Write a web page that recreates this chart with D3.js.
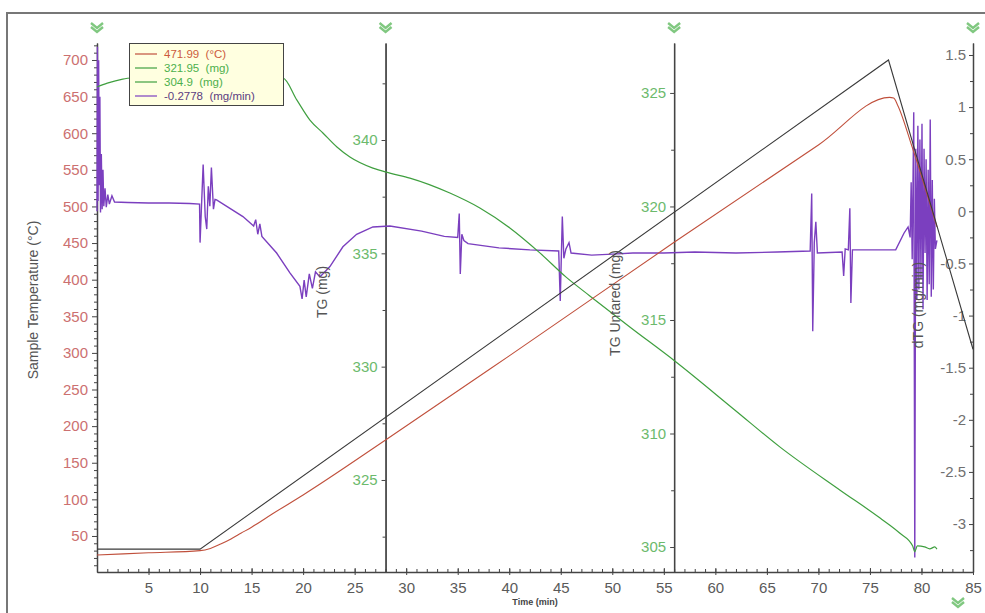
<!DOCTYPE html>
<html lang="en">
<head>
    <meta charset="UTF-8">
    <title>TG / dTG</title>
    <script src="https://d3js.org/d3.v7.min.js"></script>
    <style>
        body {
            margin: 0;
            background-color: #fff;
            font-family: Arial, "Liberation Sans", sans-serif;
        }
        svg { display: block; }
        .axis path, .axis line { stroke: #444; }
        .axis text { font-size: 15px; font-family: Arial, "Liberation Sans", sans-serif; }
        .title { font-size: 14px; fill: #555; }
        .legend text { font-size: 11.5px; white-space: pre; }
    </style>
</head>
<body>
    <div id="chart"></div>

    <script>
        const width = 985;
        const height = 613;

        // ticks
        const timeTicks = [5, 10, 15, 20, 25, 30, 35, 40, 45, 50, 55, 60, 65, 70, 75, 80, 85];
        const tempTicks = [50, 100, 150, 200, 250, 300, 350, 400, 450, 500, 550, 600, 650, 700];
        const tgTicks = [325, 330, 335, 340];
        const untaredTicks = [305, 310, 315, 320, 325];
        const dtgTicks = [1.5, 1, 0.5, 0, -0.5, -1, -1.5, -2, -2.5, -3];

        // legend (last values)
        const legendLabels = ["471.99  (°C)", "321.95  (mg)", "304.9  (mg)", "-0.2778  (mg/min)"];

        // sample temperature (min, °C)
        const sampleTemp = [
            [0, 24], [5, 27], [10, 30], [11, 33], [12, 39], [13, 46], [14, 54], [15, 62],
            [17, 80], [20, 106], [28, 181], [40, 296], [56, 451], [70, 584], [76.9, 649],
            [77.3, 648], [77.7, 638], [79.1, 581], [81.5, 472]
        ];

        // programmed temperature (min, °C)
        const programTemp = [[0, 32], [10, 32], [76.8, 700], [85, 305]];

        // TG (min, mg)
        const tgMass = [
            [0, 342.34], [1, 342.51], [2.5, 342.69], [4, 342.76], [6, 342.82], [10, 342.84],
            [14, 342.8], [18.04, 342.73], [19.4, 341.76], [20.66, 340.88], [21.92, 340.31],
            [23.28, 339.69], [24.54, 339.25], [26.77, 338.76], [28.42, 338.54], [30.36, 338.32],
            [34.24, 337.66], [37.15, 337.0], [40.06, 336.12], [42.97, 335.02], [45.49, 333.96],
            [47.82, 333.12], [51.7, 331.75], [56.06, 330.25], [61.88, 328.09], [66.25, 326.46],
            [72.07, 324.56], [75.95, 323.33], [77.88, 322.66], [79.15, 322.09], [79.34, 321.83],
            [79.6, 322.09], [80.3, 322.05], [80.8, 321.96], [81.3, 322.05], [81.5, 321.95]
        ];

        // dTG (min, mg/min)
        const dtgRate = [
            [0.00, 0.00], [0.04, 1.58], [0.10, 0.10], [0.16, 1.45], [0.22, 0.25], [0.28, 1.10],
            [0.34, -0.01], [0.42, 0.55], [0.50, 0.02], [0.58, 0.40], [0.66, 0.05], [0.78, 0.22],
            [0.90, 0.04], [1.05, 0.16], [1.20, 0.07], [1.45, 0.15], [1.70, 0.09], [3.0, 0.085],
            [5.0, 0.08], [7.0, 0.08], [9.0, 0.075], [9.95, 0.07], [10.0, -0.30], [10.3, 0.45],
            [10.5, -0.05], [10.65, -0.17], [10.8, 0.24], [10.95, 0.05], [11.1, 0.42], [11.3, 0.02],
            [11.45, 0.115], [11.6, 0.11], [14.16, -0.05], [15.2, -0.14], [15.4, -0.08], [15.6, -0.22],
            [15.8, -0.12], [16.0, -0.24], [17.43, -0.40], [18.72, -0.59], [19.69, -0.72], [19.9, -0.84],
            [20.1, -0.66], [20.3, -0.82], [20.6, -0.60], [20.9, -0.74], [21.2, -0.58], [21.63, -0.63],
            [22.6, -0.53], [23.86, -0.34], [25.19, -0.22], [26.77, -0.15], [28.42, -0.14], [31.5, -0.19],
            [33.7, -0.24], [35.0, -0.25], [35.15, -0.02], [35.25, -0.60], [35.4, -0.22], [35.6, -0.28],
            [36.0, -0.31], [39.0, -0.35], [42.0, -0.37], [44.8, -0.38], [44.95, -0.86], [45.15, -0.05],
            [45.3, -0.45], [45.5, -0.36], [45.8, -0.30], [46.0, -0.40], [48.0, -0.42], [50.0, -0.41],
            [52.0, -0.40], [55.0, -0.40], [58.0, -0.39], [62.0, -0.40], [66.0, -0.39], [69.2, -0.38],
            [69.35, 0.17], [69.45, -1.15], [69.6, -0.30], [69.75, -0.10], [69.9, -0.40], [72.3, -0.39],
            [72.45, -0.62], [72.6, -0.36], [72.9, -0.37], [73.05, 0.03], [73.15, -0.88], [73.3, -0.37],
            [77.5, -0.37], [78.3, -0.21], [78.7, -0.15], [78.9, -0.25], [79.0, 0.28], [79.1, -0.46],
            [79.25, 0.95], [79.35, -3.32], [79.45, 0.60], [79.55, -0.85], [79.65, 0.82], [79.75, -0.75],
            [79.85, 0.69], [79.95, -0.65], [80.05, 0.84], [80.15, -0.94], [80.25, 0.60], [80.35, -0.40],
            [80.45, 0.50], [80.55, -0.85], [80.65, 0.40], [80.75, -0.70], [80.85, 0.88], [80.95, -0.82],
            [81.05, 0.30], [81.15, -0.75], [81.25, 0.12], [81.35, -0.36], [81.5, -0.2778]
        ];

        const svg = d3.select("#chart").append("svg")
            .attr("width", width)
            .attr("height", height);

        // panel frame (top and left edges visible)
        svg.append("path")
            .attr("d", `M7,${height}V13H${width}`)
            .attr("fill", "none")
            .attr("stroke", "#777")
            .attr("stroke-width", 2);

        // scales
        const x = d3.scaleLinear().domain([0, 85]).range([97, 973]);
        const yTemp = d3.scaleLinear().domain([0.8, 723.2]).range([572, 43]);
        const yTG = d3.scaleLinear().domain([320.94, 344.28]).range([572, 43]);
        const yUnt = d3.scaleLinear().domain([303.9, 327.2]).range([572, 43]);
        const yDtg = d3.scaleLinear().domain([-3.46, 1.615]).range([572, 43]);

        const fmt = d => String(d);

        function yAxis(scale, xPos, ticks, minorStep, color, size, pad) {
            const lo = scale.domain()[0], hi = scale.domain()[1];
            const minor = d3.range(Math.ceil(lo / minorStep) * minorStep, hi, minorStep)
                .filter(v => !ticks.some(t => Math.abs(t - v) < 1e-6));
            svg.append("g")
                .attr("class", "axis")
                .attr("transform", `translate(${xPos},0)`)
                .call(d3.axisLeft(scale).tickValues(minor).tickFormat("").tickSize(3).tickSizeOuter(0));
            const g = svg.append("g")
                .attr("class", "axis")
                .attr("transform", `translate(${xPos},0)`)
                .call(d3.axisLeft(scale).tickValues(ticks).tickFormat(fmt)
                    .tickSize(size).tickPadding(pad).tickSizeOuter(0));
            g.selectAll("text").attr("fill", color);
            g.select(".domain").attr("stroke-width", 1.5);
        }

        yAxis(yTemp, x(0), tempTicks, 10, "#cc7070", 5, 4);
        yAxis(yTG, x(28), tgTicks, 2.5, "#6cba6c", 4, 4);
        yAxis(yUnt, x(56), untaredTicks, 2.5, "#6cba6c", 4, 4);
        yAxis(yDtg, x(85), dtgTicks, 0.25, "#707070", 4, 3);

        // time axis
        svg.append("g")
            .attr("class", "axis")
            .attr("transform", "translate(0,572)")
            .call(d3.axisTop(x).tickValues(d3.range(1, 85, 1)).tickFormat("").tickSize(3).tickSizeOuter(0));
        const gx = svg.append("g")
            .attr("class", "axis")
            .attr("transform", "translate(0,572)")
            .call(d3.axisBottom(x).tickValues(timeTicks).tickFormat(fmt)
                .tickSize(3).tickPadding(7).tickSizeOuter(0));
        gx.selectAll(".tick line").attr("y1", -4);
        gx.selectAll("text").attr("fill", "#5a5a5a");
        gx.select(".domain").attr("stroke-width", 1.5);

        // curves
        const lineOf = ys => d3.line().x(d => x(d[0])).y(d => ys(d[1]));

        svg.append("path").datum(dtgRate)
            .attr("d", lineOf(yDtg))
            .attr("fill", "none").attr("stroke", "#7b3fbf").attr("stroke-width", 1.4);

        svg.append("path").datum(tgMass)
            .attr("d", lineOf(yTG).curve(d3.curveMonotoneX))
            .attr("fill", "none").attr("stroke", "#3f9f3f").attr("stroke-width", 1.2);

        svg.append("path").datum(sampleTemp)
            .attr("d", lineOf(yTemp).curve(d3.curveMonotoneX))
            .attr("fill", "none").attr("stroke", "#c0503c").attr("stroke-width", 1.1);

        svg.append("path").datum(programTemp)
            .attr("d", lineOf(yTemp))
            .attr("fill", "none").attr("stroke", "#3a3a3a").attr("stroke-width", 1.1);

        // axis titles
        const titles = [
            { text: "Sample Temperature (°C)", x: 33, y: 300 },
            { text: "TG (mg)", x: 322, y: 292 },
            { text: "TG Untared (mg)", x: 615, y: 303 },
            { text: "dTG (mg/min)", x: 918, y: 305 }
        ];
        svg.selectAll(".title").data(titles).enter().append("text")
            .attr("class", "title")
            .attr("transform", d => `translate(${d.x},${d.y}) rotate(-90)`)
            .attr("text-anchor", "middle")
            .attr("dominant-baseline", "central")
            .text(d => d.text);

        svg.append("text")
            .attr("x", x(42.5)).attr("y", 605)
            .attr("text-anchor", "middle")
            .attr("font-size", 9).attr("font-weight", "bold").attr("fill", "#444")
            .text("Time (min)");

        // cursor markers
        const marks = [[x(0), 28], [x(28), 28], [x(56), 28], [x(85), 28], [958, 603]];
        svg.selectAll(".mark").data(marks).enter().append("path")
            .attr("class", "mark")
            .attr("transform", d => `translate(${d[0]},${d[1]})`)
            .attr("d", "M-6,-5L0,0L6,-5M-6,-1L0,4L6,-1")
            .attr("fill", "none").attr("stroke", "#80c880").attr("stroke-width", 2.4);

        // legend
        const legendColors = ["#c0503c", "#3f9f3f", "#3f9f3f", "#7b3fbf"];
        const textColors = ["#cc5a3c", "#4caf4c", "#4caf4c", "#5c3d80"];
        const legend = svg.append("g").attr("class", "legend");
        legend.append("rect")
            .attr("x", 129.5).attr("y", 43.5).attr("width", 154).attr("height", 62)
            .attr("fill", "#ffffe0").attr("stroke", "#444");
        legendLabels.forEach((lab, i) => {
            const yy = 54 + i * 14;
            legend.append("line")
                .attr("x1", 135).attr("x2", 157).attr("y1", yy).attr("y2", yy)
                .attr("stroke", legendColors[i]).attr("stroke-width", 1.2);
            legend.append("text")
                .attr("x", 164).attr("y", yy)
                .attr("dominant-baseline", "central")
                .attr("fill", textColors[i])
                .text(lab);
        });
    </script>
</body>
</html>
